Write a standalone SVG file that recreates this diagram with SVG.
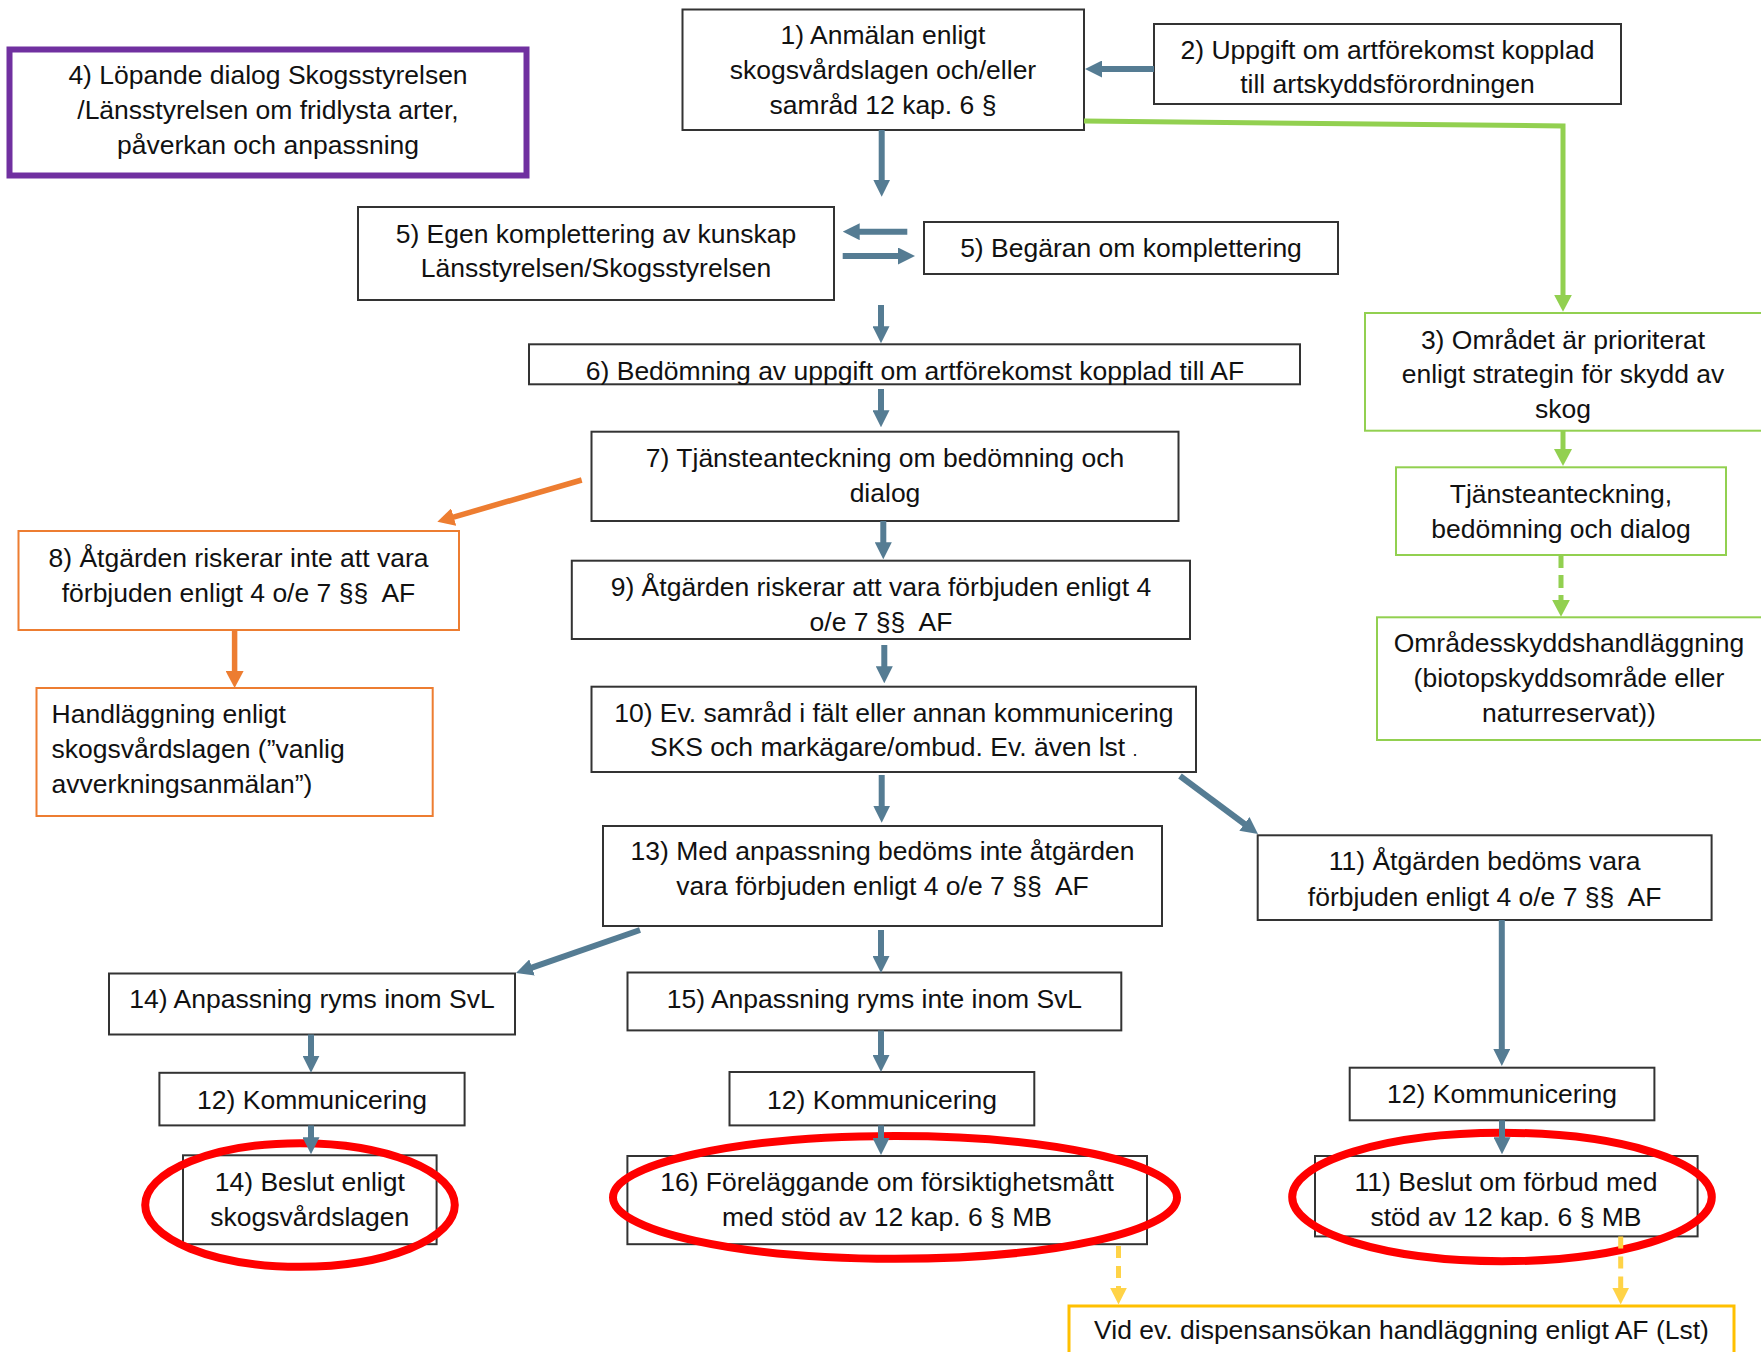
<svg xmlns="http://www.w3.org/2000/svg" width="1761" height="1352" viewBox="0 0 1761 1352">
<style>
.box{fill:#fff;stroke:#333;stroke-width:2}
.obox{fill:#fff;stroke:#ED7D31;stroke-width:2}
.gbox{fill:#fff;stroke:#92D050;stroke-width:2}
.ybox{fill:#fff;stroke:#FFC000;stroke-width:3}
.pbox{fill:#fff;stroke:#7030A0;stroke-width:6}
text{font-family:"Liberation Sans",Arial,sans-serif;font-size:26.5px;fill:#111;text-anchor:middle}
text.l{text-anchor:start}
.cb{fill:none;stroke:#557C93;stroke-width:6;marker-end:url(#mb)}
.co{fill:none;stroke:#ED7D31;stroke-width:5.5;marker-end:url(#mo)}
.cg{fill:none;stroke:#92D050;stroke-width:5;marker-end:url(#mg)}
.cgd{fill:none;stroke:#92D050;stroke-width:5;stroke-dasharray:13 7;marker-end:url(#mg)}
.cyd{fill:none;stroke:#FFD347;stroke-width:5;stroke-dasharray:12 8;marker-end:url(#my)}
.hl{fill:none;stroke:#FF0000;stroke-width:8}
</style>
<defs>
<marker id="mb" markerUnits="userSpaceOnUse" markerWidth="17" markerHeight="17" refX="1" refY="8.5" orient="auto"><path d="M0,0 L17,8.5 L0,17 z" fill="#557C93"/></marker>
<marker id="mo" markerUnits="userSpaceOnUse" markerWidth="18" markerHeight="18" refX="1" refY="9" orient="auto"><path d="M0,0 L17,9 L0,18 z" fill="#ED7D31"/></marker>
<marker id="mg" markerUnits="userSpaceOnUse" markerWidth="18" markerHeight="18" refX="1" refY="9" orient="auto"><path d="M0,0 L17,9 L0,18 z" fill="#92D050"/></marker>
<marker id="my" markerUnits="userSpaceOnUse" markerWidth="17" markerHeight="17" refX="1" refY="8.5" orient="auto"><path d="M0,0 L17,8.5 L0,17 z" fill="#FFD347"/></marker>
</defs>
<rect width="1761" height="1352" fill="#fff"/>

<g id="n1"><rect class="box" x="682.5" y="9.5" width="401.5" height="120.5"/>
<text x="883" y="44">1) Anmälan enligt</text><text x="883" y="79.3">skogsvårdslagen och/eller</text><text x="883" y="114">samråd 12 kap. 6 §</text></g>

<g id="n2"><rect class="box" x="1154" y="24" width="467" height="80"/>
<text x="1387.5" y="59.3">2) Uppgift om artförekomst kopplad</text><text x="1387.5" y="93">till artskyddsförordningen</text></g>

<g id="n4"><rect class="pbox" x="9.5" y="49.5" width="517" height="126"/>
<text x="268" y="84">4) Löpande dialog Skogsstyrelsen</text><text x="268" y="119">/Länsstyrelsen om fridlysta arter,</text><text x="268" y="154">påverkan och anpassning</text></g>

<g id="n5a"><rect class="box" x="358" y="207" width="476" height="93"/>
<text x="596" y="242.7">5) Egen komplettering av kunskap</text><text x="596" y="277.3">Länsstyrelsen/Skogsstyrelsen</text></g>

<g id="n5b"><rect class="box" x="924" y="222" width="414" height="52"/>
<text x="1131" y="257">5) Begäran om komplettering</text></g>

<g id="n3"><rect class="gbox" x="1365" y="313" width="400" height="117.7"/>
<text x="1563" y="349.3">3) Området är prioriterat</text><text x="1563" y="383.3">enligt strategin för skydd av</text><text x="1563" y="418.3">skog</text></g>

<g id="n6"><rect class="box" x="529" y="344.3" width="771" height="40"/>
<text x="915" y="380">6) Bedömning av uppgift om artförekomst kopplad till AF</text></g>

<g id="n7"><rect class="box" x="591.5" y="431.7" width="587" height="89.3"/>
<text x="885" y="466.7">7) Tjänsteanteckning om bedömning och</text><text x="885" y="501.7">dialog</text></g>

<g id="nT"><rect class="gbox" x="1396" y="467.3" width="330" height="87.7"/>
<text x="1561" y="502.7">Tjänsteanteckning,</text><text x="1561" y="538.3">bedömning och dialog</text></g>

<g id="n8"><rect class="obox" x="18.5" y="531" width="440.5" height="99"/>
<text x="238.5" y="566.7">8) Åtgärden riskerar inte att vara</text><text x="238.5" y="601.7">förbjuden enligt 4 o/e 7 §§&#160; AF</text></g>

<g id="n9"><rect class="box" x="571.8" y="560.7" width="618.2" height="78.3"/>
<text x="881" y="596">9) Åtgärden riskerar att vara förbjuden enligt 4</text><text x="881" y="630.7">o/e 7 §§&#160; AF</text></g>

<g id="nO"><rect class="gbox" x="1377" y="617.3" width="390" height="122.7"/>
<text x="1569" y="651.7">Områdesskyddshandläggning</text><text x="1569" y="686.7">(biotopskyddsområde eller</text><text x="1569" y="721.7">naturreservat))</text></g>

<g id="nH"><rect class="obox" x="36.5" y="688" width="396.2" height="128"/>
<text class="l" x="51.6" y="723">Handläggning enligt</text><text class="l" x="51.6" y="758">skogsvårdslagen (”vanlig</text><text class="l" x="51.6" y="793">avverkningsanmälan”)</text></g>

<g id="n10"><rect class="box" x="591.5" y="686.7" width="604.5" height="85.3"/>
<text x="893.8" y="721.7">10) Ev. samråd i fält eller annan kommunicering</text><text x="893.8" y="756">SKS och markägare/ombud. Ev. även lst <tspan font-size="18">.</tspan></text></g>

<g id="n13"><rect class="box" x="603" y="826" width="559" height="100"/>
<text x="882.5" y="860">13) Med anpassning bedöms inte åtgärden</text><text x="882.5" y="895.3">vara förbjuden enligt 4 o/e 7 §§&#160; AF</text></g>

<g id="n11"><rect class="box" x="1257.7" y="835.3" width="453.9" height="84.7"/>
<text x="1484.6" y="870.2">11) Åtgärden bedöms vara</text><text x="1484.6" y="905.5">förbjuden enligt 4 o/e 7 §§&#160; AF</text></g>

<g id="n14"><rect class="box" x="109" y="973.5" width="406" height="61"/>
<text x="312" y="1008.3">14) Anpassning ryms inom SvL</text></g>

<g id="n15"><rect class="box" x="627.5" y="972.5" width="493.8" height="57.9"/>
<text x="874.4" y="1008.3">15) Anpassning ryms inte inom SvL</text></g>

<g id="n12a"><rect class="box" x="159.4" y="1072.8" width="305.2" height="52.6"/>
<text x="312" y="1109">12) Kommunicering</text></g>

<g id="n12b"><rect class="box" x="729.5" y="1072" width="304.8" height="53.4"/>
<text x="882" y="1109">12) Kommunicering</text></g>

<g id="n12c"><rect class="box" x="1349.7" y="1067.7" width="304.7" height="52.6"/>
<text x="1502" y="1103.3">12) Kommunicering</text></g>

<g id="n14b"><rect class="box" x="183" y="1155.3" width="253.6" height="88.9"/>
<text x="309.8" y="1190.5">14) Beslut enligt</text><text x="309.8" y="1225.5">skogsvårdslagen</text></g>

<g id="n16"><rect class="box" x="627.4" y="1156" width="519.6" height="88.2"/>
<text x="887" y="1190.5">16) Föreläggande om försiktighetsmått</text><text x="887" y="1225.5">med stöd av 12 kap. 6 § MB</text></g>

<g id="n11b"><rect class="box" x="1315" y="1156" width="382.6" height="80.4"/>
<text x="1506" y="1190.5">11) Beslut om förbud med</text><text x="1506" y="1225.5">stöd av 12 kap. 6 § MB</text></g>

<g id="nY"><rect class="ybox" x="1069" y="1306" width="665" height="60"/>
<text x="1401.5" y="1339.2">Vid ev. dispensansökan handläggning enligt AF (Lst)</text></g>

<g id="highlights">
<ellipse class="hl" cx="300" cy="1205" rx="154.8" ry="61.8"/>
<ellipse class="hl" cx="895" cy="1197.4" rx="282" ry="61.4"/>
<ellipse class="hl" cx="1502" cy="1197" rx="209.8" ry="64.2"/>
</g>

<g id="connectors">
<path class="cb" d="M1154,69 H1101"/>
<path class="cb" d="M881.7,130 V180.7"/>
<path class="cb" d="M907.3,231.7 H858.7"/>
<path class="cb" d="M842.7,256 H899"/>
<path class="cb" d="M881,305 V327.3"/>
<path class="cb" d="M881,389 V411.3"/>
<path class="cb" d="M883.3,521 V543.3"/>
<path class="cb" d="M884.3,645 V667.3"/>
<path class="cb" d="M881.7,775 V806.7"/>
<path class="cb" d="M1180,776 L1245.2,824.5"/>
<path class="cb" d="M640,930 L531.1,967.8"/>
<path class="cb" d="M881,930 V957"/>
<path class="cb" d="M881,1030.4 V1056"/>
<path class="cb" d="M881,1125.4 V1139"/>
<path class="cb" d="M311,1034.5 V1056.8"/>
<path class="cb" d="M311,1125.4 V1138.2"/>
<path class="cb" d="M1501.8,920 V1050"/>
<path class="cb" d="M1502,1120.3 V1138.2"/>
<path class="co" d="M581.7,480 L452.7,517.3"/>
<path class="co" d="M234.6,630 V672"/>
<path class="cg" d="M1084,121 L1563,126 V295.7"/>
<path class="cg" d="M1563,430.7 V450"/>
<path class="cgd" d="M1561,555 V600.7"/>
<path class="cyd" d="M1118.5,1246 V1288.6"/>
<path class="cyd" d="M1620.7,1236.4 V1288.6"/>
</g>
</svg>
